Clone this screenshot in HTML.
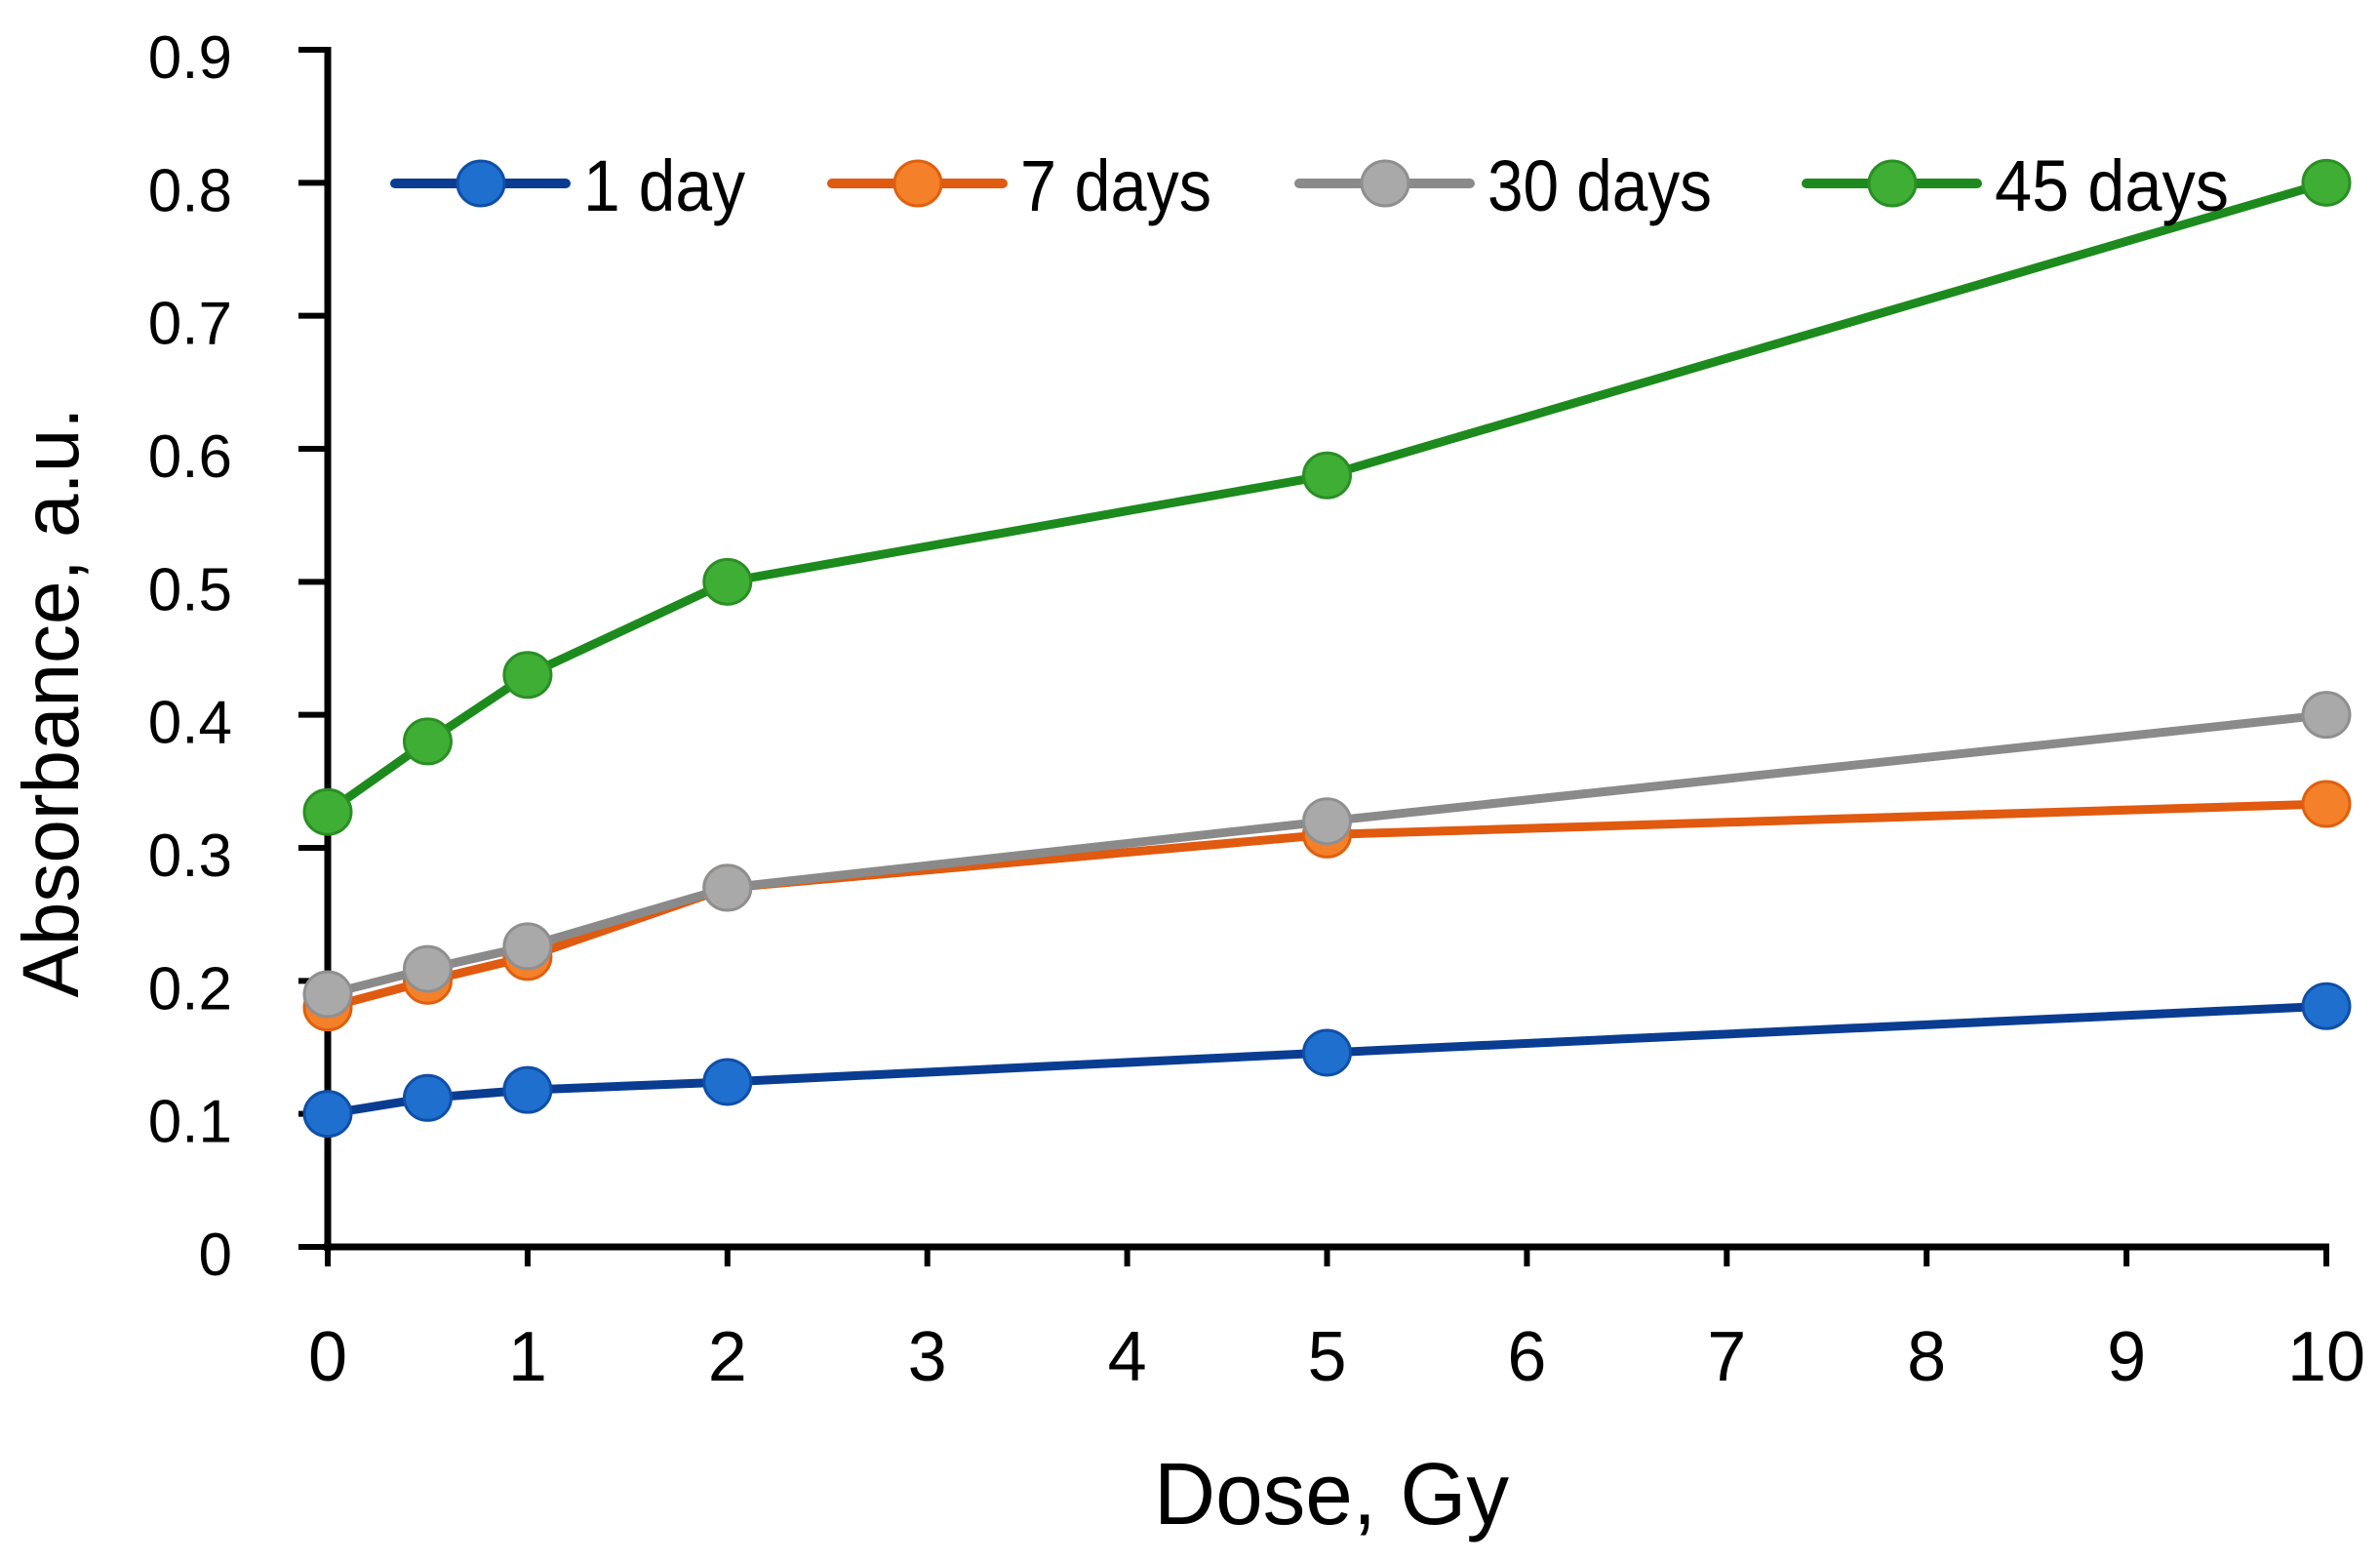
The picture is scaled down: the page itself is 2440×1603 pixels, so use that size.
<!DOCTYPE html>
<html><head><meta charset="utf-8"><style>
html,body{margin:0;padding:0;background:#fff;}
svg{display:block;}
text{font-family:"Liberation Sans",sans-serif;fill:#000;}
</style></head><body>
<svg id="chart" width="2440" height="1603" viewBox="0 0 2440 1603" xmlns="http://www.w3.org/2000/svg">
<g id="axes"></g>
<g id="series"></g>
<g id="legend"></g>
<text x="1365" y="1562" font-size="90" text-anchor="middle" textLength="364" lengthAdjust="spacingAndGlyphs">Dose, Gy</text>
<text x="0" y="0" font-size="82" text-anchor="middle" textLength="605" lengthAdjust="spacingAndGlyphs" transform="translate(80,720) rotate(-90)">Absorbance, a.u.</text>
</svg>
<script>
const doses = [0, 0.5, 1, 2, 5, 10];
const day1 = [0.1, 0.112, 0.118, 0.124, 0.146, 0.181];
const days7 = [0.18, 0.2, 0.218, 0.27, 0.31, 0.333];
const days30 = [0.19, 0.209, 0.226, 0.27, 0.32, 0.4];
const days45 = [0.327, 0.38, 0.43, 0.5, 0.58, 0.8];
const seriesNames = ["1 day", "7 days", "30 days", "45 days"];
const xTicks = [0,1,2,3,4,5,6,7,8,9,10];
const yTicks = ["0","0.1","0.2","0.3","0.4","0.5","0.6","0.7","0.8","0.9"];

const NS = "http://www.w3.org/2000/svg";
const X0 = 336, X1 = 2385, Y0 = 1278, Y1 = 51;
function sx(v){ return X0 + (X1 - X0) * v / 10; }
function sy(v){ return Y0 - (Y0 - Y1) * v / 0.9; }
function mk(tag, attrs, parent){ const e = document.createElementNS(NS, tag); for (const k in attrs) e.setAttribute(k, attrs[k]); parent.appendChild(e); return e; }

const axes = document.getElementById('axes');
let e = mk('line', {x1:X0, y1:Y1-3, x2:X0, y2:Y0+4, stroke:'#000','stroke-width':7}, axes);


e = mk('line', {x1:X0-4, y1:Y0, x2:X1+3, y2:Y0, stroke:'#000','stroke-width':7}, axes);


yTicks.forEach(function(t){
  const y = sy(parseFloat(t));
  const l = mk('line', {x1:306, y1:y, x2:X0, y2:y, stroke:'#000','stroke-width':6}, axes);
  
  
  const tx = mk('text', {x:238, y:y+29, 'font-size':62, 'text-anchor':'end'}, axes);
  tx.textContent = t;
  
  
});
xTicks.forEach(function(t){
  const x = sx(t);
  const l = mk('line', {x1:x, y1:Y0, x2:x, y2:1298, stroke:'#000','stroke-width':6}, axes);
  
  
  const tx = mk('text', {x:x, y:1415, 'font-size':72, 'text-anchor':'middle'}, axes);
  tx.textContent = String(t);
  
  
});

const styles = [
  {line:'#0a3d91', fill:'#1f6fcf', stroke:'#0f4fa8'},
  {line:'#e05a10', fill:'#f5802a', stroke:'#e0600f'},
  {line:'#8a8a8a', fill:'#a9a9a9', stroke:'#8f8f8f'},
  {line:'#1d8a1d', fill:'#3fae35', stroke:'#2a8f25'}
];
const allSeries = [day1, days7, days30, days45];
const sg = document.getElementById('series');
allSeries.forEach(function(vals, i){
  const g = mk('g', {}, sg);
  
  
  const pts = vals.map(function(v, j){ return sx(doses[j]) + ',' + sy(v); }).join(' ');
  const pl = mk('polyline', {points:pts, fill:'none', stroke:styles[i].line, 'stroke-width':9, 'stroke-linejoin':'round'}, g);
  
  
  vals.forEach(function(v, j){
    const c = mk('ellipse', {cx:sx(doses[j]), cy:sy(v), rx:24, ry:23, fill:styles[i].fill, stroke:styles[i].stroke, 'stroke-width':3}, g);
    
    
  });
});

const lg = document.getElementById('legend');
const legX = [405, 853, 1332, 1852];
const legTextW = [166, 196, 230, 240];
seriesNames.forEach(function(n, i){
  const g = mk('g', {}, lg);
  
  
  const x = legX[i], y = 188;
  mk('line', {x1:x, y1:y, x2:x+175, y2:y, stroke:styles[i].line, 'stroke-width':10, 'stroke-linecap':'round'}, g);
  mk('ellipse', {cx:x+88, cy:y, rx:24, ry:23, fill:styles[i].fill, stroke:styles[i].stroke, 'stroke-width':3}, g);
  const t = mk('text', {x:x+193, y:216, 'font-size':74, textLength:legTextW[i], lengthAdjust:'spacingAndGlyphs'}, g);
  t.textContent = n;
  
  
});
</script>
</body></html>
